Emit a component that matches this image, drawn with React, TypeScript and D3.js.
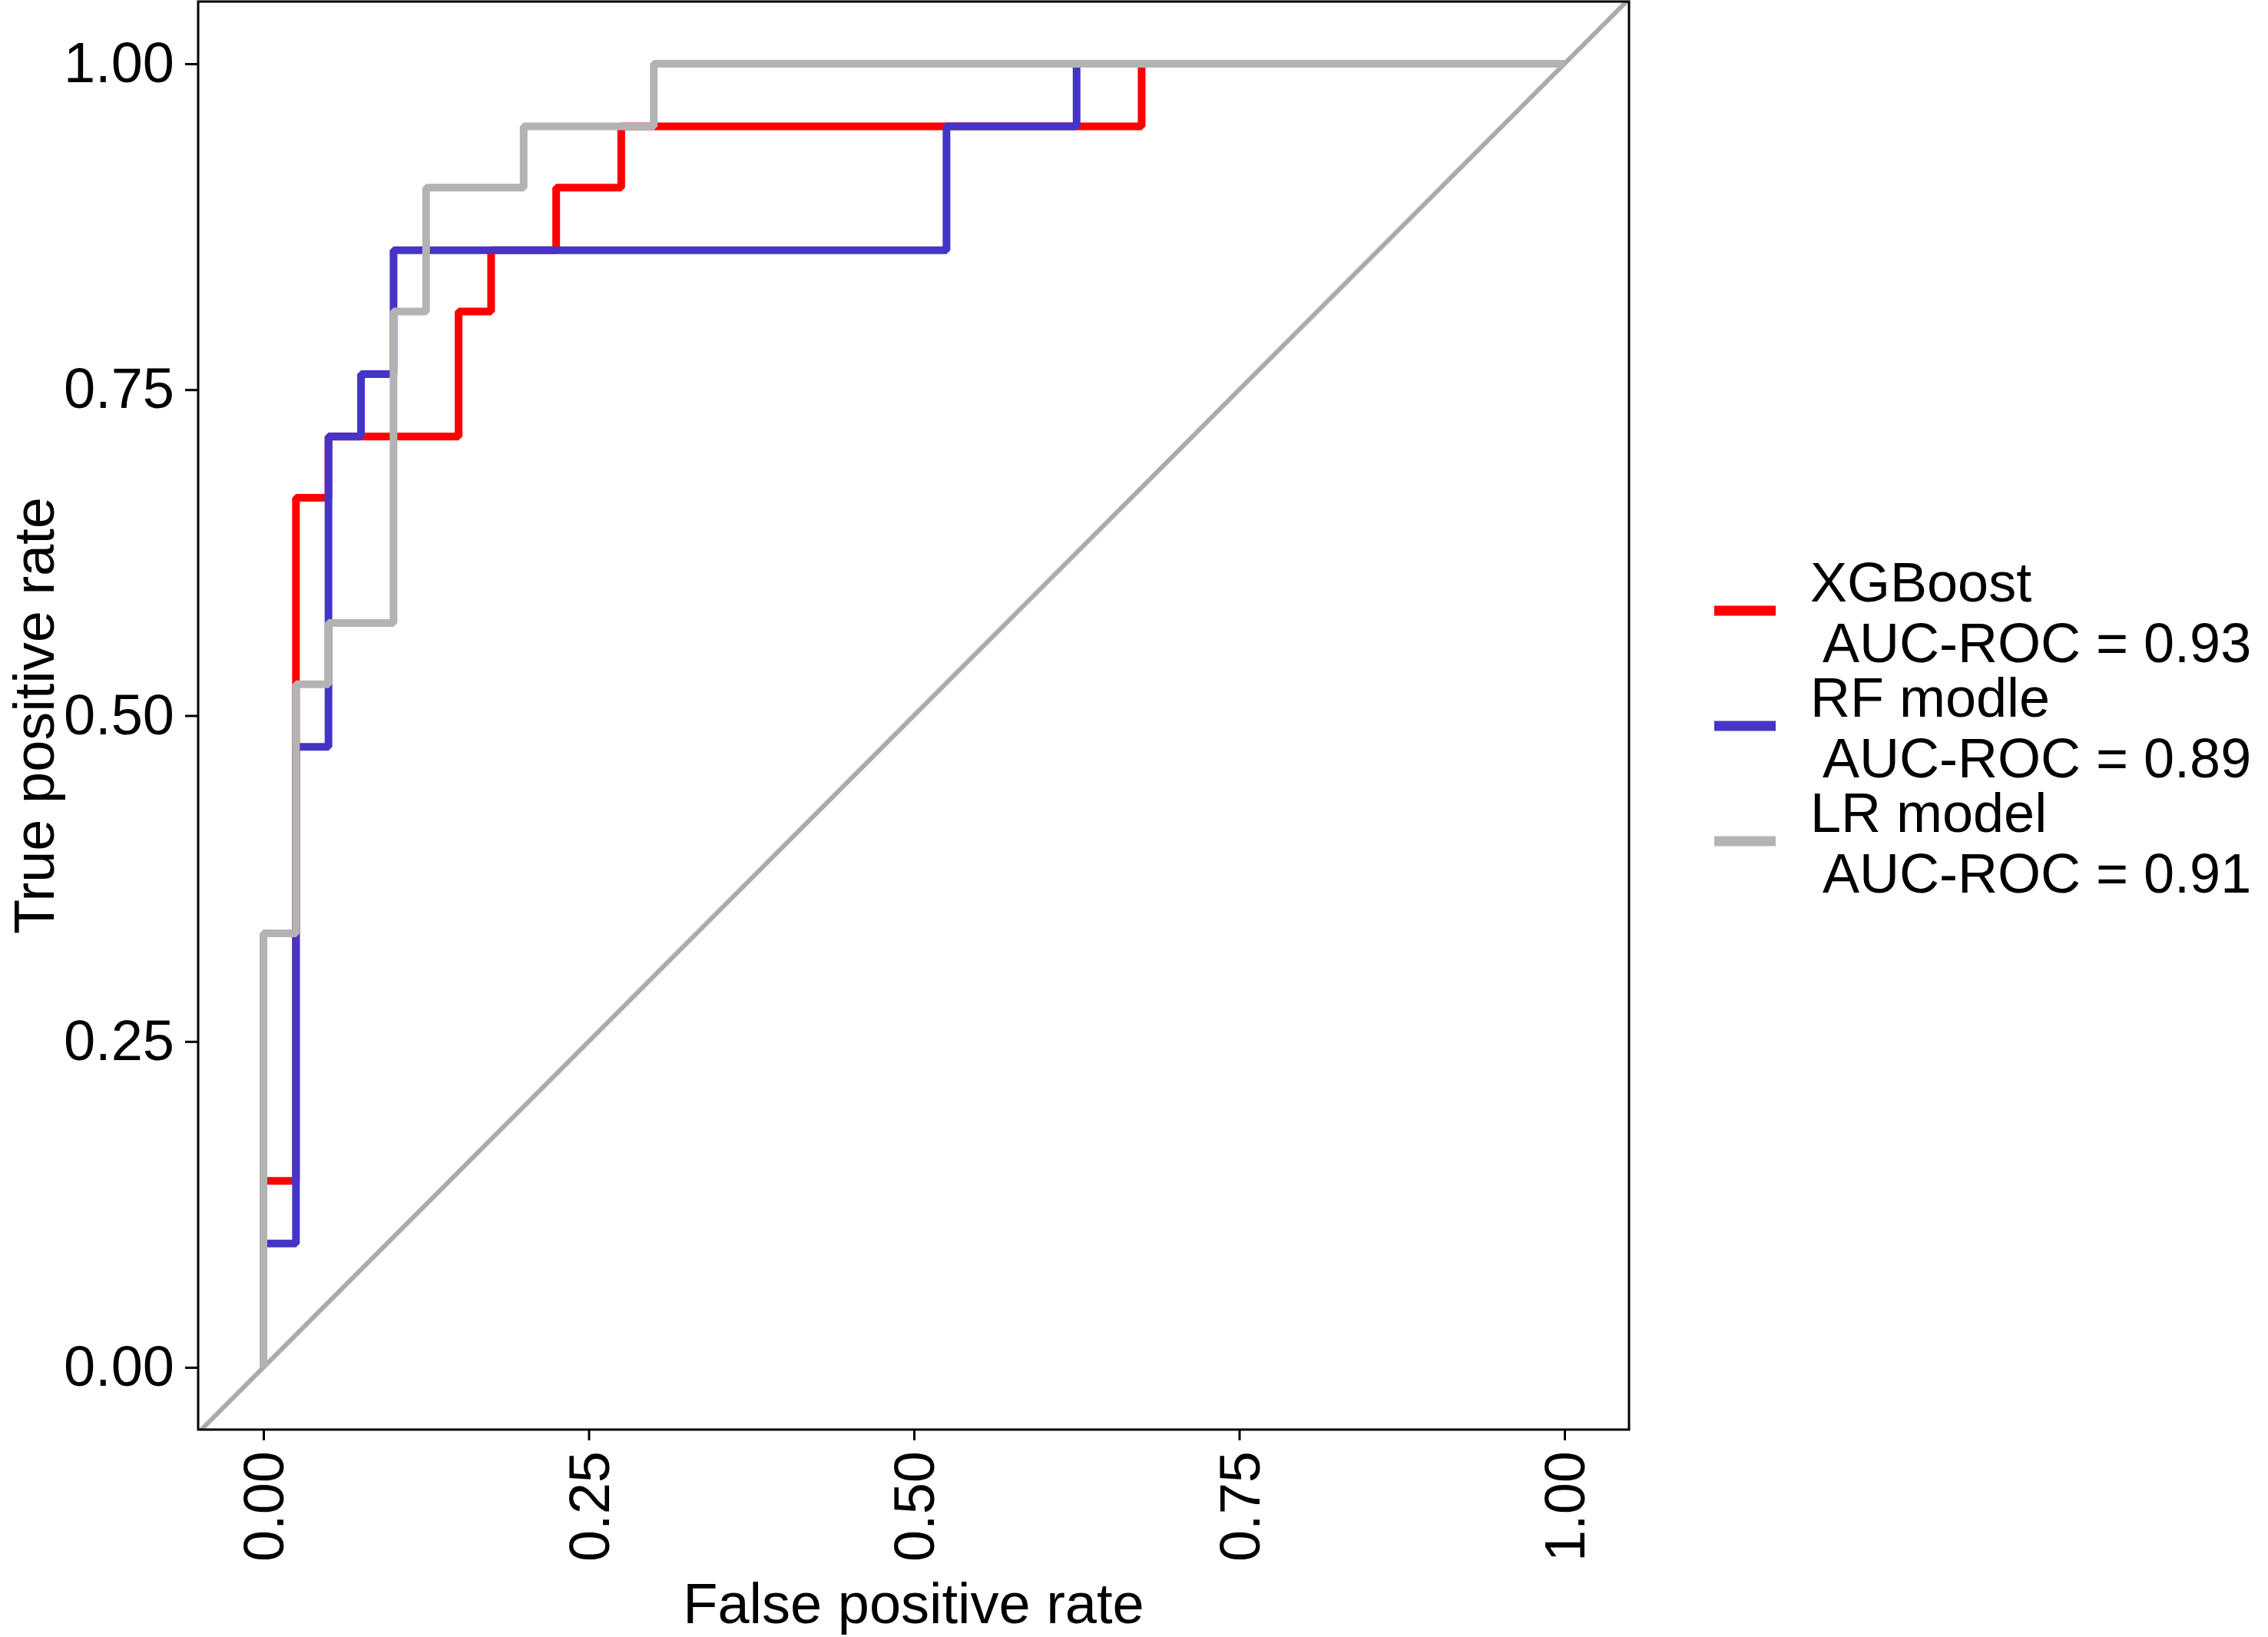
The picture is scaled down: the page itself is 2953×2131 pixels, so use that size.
import * as d3 from "d3";
import React, { useRef, useEffect } from "react";

const width = 2953;
const height = 2131;
// panel box in pixels
const panel = { left: 258, right: 2121, top: 2, bottom: 1861 };

// ROC points (false positive rate, true positive rate)
const xgbFpr = [0, 0, 0.025, 0.025, 0.05, 0.05, 0.15, 0.15, 0.175, 0.175, 0.225, 0.225, 0.275, 0.275, 0.675, 0.675, 1];
const xgbTpr = [0, 0.143, 0.143, 0.667, 0.667, 0.714, 0.714, 0.81, 0.81, 0.857, 0.857, 0.905, 0.905, 0.952, 0.952, 1, 1];

const rfFpr = [0, 0, 0.025, 0.025, 0.05, 0.05, 0.075, 0.075, 0.1, 0.1, 0.525, 0.525, 0.625, 0.625, 1];
const rfTpr = [0, 0.095, 0.095, 0.476, 0.476, 0.714, 0.714, 0.762, 0.762, 0.857, 0.857, 0.952, 0.952, 1, 1];

const lrFpr = [0, 0, 0.025, 0.025, 0.05, 0.05, 0.1, 0.1, 0.125, 0.125, 0.2, 0.2, 0.3, 0.3, 1];
const lrTpr = [0, 0.333, 0.333, 0.524, 0.524, 0.571, 0.571, 0.81, 0.81, 0.905, 0.905, 0.952, 0.952, 1, 1];

const modelNames = ["XGBoost", "RF modle", "LR model"];
const aucValues = ["0.93", "0.89", "0.91"];
const modelColors = ["#ff0000", "#4535c6", "#b3b3b3"];

const tickValues = [0, 0.25, 0.5, 0.75, 1];

export default function App() {
  const ref = useRef(null);

  useEffect(() => {
    const svg = d3.select(ref.current);
    svg.selectAll("*").remove();

    const x = d3.scaleLinear().domain([0, 1]).range([343, 2037]);
    const y = d3.scaleLinear().domain([0, 1]).range([1780, 83]);

    svg.append("rect").attr("width", width).attr("height", height).attr("fill", "white");

    svg
      .append("clipPath")
      .attr("id", "panel-clip")
      .append("rect")
      .attr("x", panel.left)
      .attr("y", panel.top)
      .attr("width", panel.right - panel.left)
      .attr("height", panel.bottom - panel.top);

    const plot = svg.append("g").attr("clip-path", "url(#panel-clip)");

    // chance diagonal
    plot
      .append("line")
      .attr("x1", x(-0.06))
      .attr("y1", y(-0.06))
      .attr("x2", x(1.06))
      .attr("y2", y(1.06))
      .attr("stroke", "#ababab")
      .attr("stroke-width", 6);

    const line = d3
      .line<[number, number]>()
      .x((d) => x(d[0]))
      .y((d) => y(d[1]));

    const curves = [
      d3.zip(xgbFpr, xgbTpr),
      d3.zip(rfFpr, rfTpr),
      d3.zip(lrFpr, lrTpr),
    ];

    curves.forEach((pts: any, i) => {
      plot
        .append("path")
        .attr("d", line(pts))
        .attr("fill", "none")
        .attr("stroke", modelColors[i])
        .attr("stroke-width", 10)
        .attr("stroke-linejoin", "bevel");
    });

    // panel border
    svg
      .append("rect")
      .attr("x", panel.left)
      .attr("y", panel.top)
      .attr("width", panel.right - panel.left)
      .attr("height", panel.bottom - panel.top)
      .attr("fill", "none")
      .attr("stroke", "black")
      .attr("stroke-width", 3);

    const font = "'Liberation Sans', Arial, sans-serif";

    // Y axis
    svg
      .append("g")
      .attr("transform", `translate(${panel.left},0)`)
      .call(
        d3
          .axisLeft(y)
          .tickValues(tickValues)
          .tickFormat(d3.format(".2f"))
          .tickSize(17)
          .tickPadding(14)
      )
      .call((g: any) => g.select(".domain").remove())
      .call((g: any) => g.selectAll("line").attr("stroke-width", 3))
      .call((g: any) =>
        g
          .selectAll("text")
          .attr("fill", "black")
          .style("font-family", font)
          .style("font-size", "74px")
      );

    // X axis
    svg
      .append("g")
      .attr("transform", `translate(0,${panel.bottom})`)
      .call(
        d3
          .axisBottom(x)
          .tickValues(tickValues)
          .tickFormat(d3.format(".2f"))
          .tickSize(14)
      )
      .call((g: any) => g.select(".domain").remove())
      .call((g: any) => g.selectAll("line").attr("stroke-width", 3))
      .call((g: any) =>
        g
          .selectAll("text")
          .attr("transform", "rotate(-90)")
          .attr("x", -28)
          .attr("y", 0)
          .attr("dy", "0.35em")
          .attr("text-anchor", "end")
          .attr("fill", "black")
          .style("font-family", font)
          .style("font-size", "74px")
      );

    // axis titles
    svg
      .append("text")
      .attr("x", (panel.left + panel.right) / 2)
      .attr("y", 2113)
      .attr("text-anchor", "middle")
      .style("font-family", font)
      .style("font-size", "74px")
      .text("False positive rate");

    svg
      .append("text")
      .attr("transform", `translate(70,${(panel.top + panel.bottom) / 2}) rotate(-90)`)
      .attr("text-anchor", "middle")
      .style("font-family", font)
      .style("font-size", "74px")
      .text("True positive rate");

    // legend
    const legend = svg.append("g");
    modelNames.forEach((name, i) => {
      const base = 783 + i * 150;
      legend
        .append("line")
        .attr("x1", 2232)
        .attr("x2", 2312)
        .attr("y1", base + 12)
        .attr("y2", base + 12)
        .attr("stroke", modelColors[i])
        .attr("stroke-width", 13);
      legend
        .append("text")
        .attr("x", 2357)
        .attr("y", base)
        .style("font-family", font)
        .style("font-size", "72px")
        .text(name);
      legend
        .append("text")
        .attr("x", 2357)
        .attr("y", base + 79)
        .style("font-family", font)
        .style("font-size", "72px")
        .style("white-space", "pre")
        .text(` AUC-ROC = ${aucValues[i]}`);
    });
  }, []);

  return (
    <svg
      ref={ref}
      width={width}
      height={height}
      viewBox={`0 0 ${width} ${height}`}
      style={{ position: "absolute", left: 0, top: 0 }}
    />
  );
}
